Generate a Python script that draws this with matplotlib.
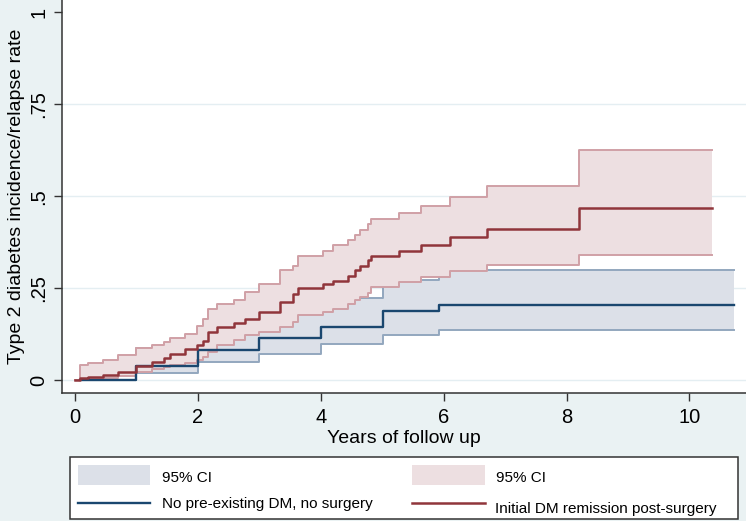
import matplotlib.pyplot as plt
from matplotlib.patches import Rectangle

# Kaplan-Meier style step data (step where='post')
blue_t = [0.08, 1.0, 2.0, 3.0, 4.0, 5.01, 5.92, 10.72]
blue_est = [0.0, 0.039, 0.081, 0.115, 0.145, 0.187, 0.205, 0.205]
blue_lo = [0.0, 0.018, 0.048, 0.072, 0.097, 0.122, 0.137, 0.137]
blue_hi = [0.0, 0.086, 0.14, 0.18, 0.224, 0.273, 0.298, 0.298]

red_t = [0.0, 0.08, 0.21, 0.46, 0.7, 1.0, 1.25, 1.44, 1.55, 1.79, 1.98, 2.09,
         2.17, 2.31, 2.58, 2.77, 2.99, 3.34, 3.55, 3.63, 4.04, 4.2, 4.45, 4.56,
         4.64, 4.77, 4.82, 5.28, 5.63, 6.1, 6.7, 8.21, 10.37]
red_est = [0.0, 0.005, 0.009, 0.014, 0.022, 0.038, 0.05, 0.059, 0.07, 0.083,
           0.095, 0.106, 0.131, 0.143, 0.154, 0.167, 0.185, 0.212, 0.235, 0.25,
           0.262, 0.27, 0.284, 0.298, 0.309, 0.325, 0.338, 0.352, 0.368, 0.388,
           0.412, 0.469, 0.469]
red_lo = [0.0, 0.0, 0.002, 0.005, 0.011, 0.022, 0.03, 0.036, 0.04, 0.045,
          0.055, 0.063, 0.077, 0.095, 0.108, 0.122, 0.131, 0.144, 0.158, 0.176,
          0.185, 0.194, 0.208, 0.218, 0.225, 0.236, 0.253, 0.266, 0.28, 0.296,
          0.313, 0.339, 0.339]
red_hi = [0.0, 0.04, 0.045, 0.055, 0.068, 0.087, 0.095, 0.104, 0.115, 0.124,
          0.148, 0.165, 0.194, 0.208, 0.218, 0.239, 0.262, 0.298, 0.311, 0.336,
          0.352, 0.366, 0.38, 0.393, 0.408, 0.424, 0.438, 0.453, 0.474, 0.497,
          0.528, 0.625, 0.625]

y_ticks = [0, 0.25, 0.5, 0.75, 1]
y_labels = ["0", ".25", ".5", ".75", "1"]
x_ticks = [0, 2, 4, 6, 8, 10]

label_blue = "No pre-existing DM, no surgery"
label_red = "Initial DM remission post-surgery"
label_ci = "95% CI"

bg = "#EAF2F3"
blue_line, blue_fill, blue_edge = "#1A476F", "#DCE0E8", "#93A7BE"
red_line, red_fill, red_edge = "#90353B", "#EDDFE1", "#D0A0A6"

plt.rcParams["font.family"] = ["Liberation Sans", "DejaVu Sans"]

W, H = 746, 521
fig = plt.figure(figsize=(W / 100, H / 100), dpi=100, facecolor=bg)
ax = fig.add_axes([62 / W, 1 - 393 / H, 1 - 62 / W, 393 / H])
ax.set_facecolor("white")

# CI bands: blue first, red drawn over it
ax.fill_between(blue_t, blue_lo, blue_hi, step="post", color=blue_fill, lw=0, zorder=1)
ax.step(blue_t, blue_lo, where="post", color=blue_edge, lw=1.4, zorder=1.2)
ax.step(blue_t, blue_hi, where="post", color=blue_edge, lw=1.4, zorder=1.2)
ax.fill_between(red_t, red_lo, red_hi, step="post", color=red_fill, lw=0, zorder=1.5)
ax.step(red_t, red_lo, where="post", color=red_edge, lw=1.4, zorder=2)
ax.step(red_t, red_hi, where="post", color=red_edge, lw=1.4, zorder=2)

# estimates
ax.step(blue_t, blue_est, where="post", color=blue_line, lw=1.7, zorder=4)
ax.step(red_t, red_est, where="post", color=red_line, lw=1.8, zorder=4)

for y in y_ticks[:-1]:
    ax.axhline(y, color="#E4EEF2", lw=1, zorder=0.5)

ax.set_xlim(-0.212, 10.92)
ax.set_ylim(-0.0354, 1.0335)
ax.set_xticks(x_ticks)
ax.set_yticks(y_ticks)
ax.set_yticklabels(y_labels, rotation=90, va="center")
ax.tick_params(axis="both", labelsize=14.5, length=6, width=1, color="#333333")
ax.tick_params(axis="x", pad=5)
ax.tick_params(axis="y", pad=4)
for s in ["top", "right"]:
    ax.spines[s].set_visible(False)
for s in ["left", "bottom"]:
    ax.spines[s].set_color("#333333")
    ax.spines[s].set_linewidth(1.1)

ax.set_xlabel("Years of follow up", fontsize=14, labelpad=2)
ax.set_ylabel("Type 2 diabetes incidence/relapse rate", fontsize=14, labelpad=3)

# legend box drawn in pixel coordinates
lg = fig.add_axes([0, 0, 1, 1], facecolor="none")
lg.set_xlim(0, W)
lg.set_ylim(H, 0)
lg.axis("off")
lg.add_patch(Rectangle((70, 457), 668, 62, facecolor="white", edgecolor="#333333", lw=1.1))
lg.add_patch(Rectangle((78, 465), 72, 20, facecolor=blue_fill, edgecolor="none"))
lg.add_patch(Rectangle((412, 465), 73, 20, facecolor=red_fill, edgecolor="none"))
lg.plot([78, 150], [502.5, 502.5], color=blue_line, lw=1.7)
lg.plot([412, 485], [502.5, 502.5], color=red_line, lw=1.8)
lg.text(162, 481.5, label_ci, fontsize=11, va="baseline")
lg.text(162, 508, label_blue, fontsize=11, va="baseline")
lg.text(496, 481.5, label_ci, fontsize=11, va="baseline")
lg.text(495, 513, label_red, fontsize=11, va="baseline")

fig.savefig("out.png", dpi=100, facecolor=bg)
